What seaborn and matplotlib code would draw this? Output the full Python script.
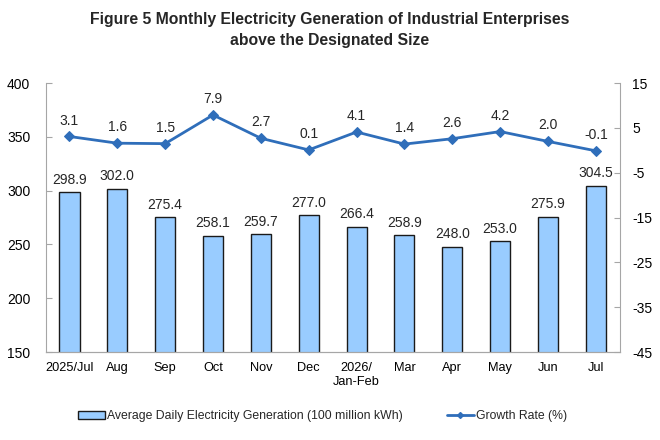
import numpy as np
import pandas as pd
import matplotlib
matplotlib.use('Agg')
import matplotlib.pyplot as plt
import seaborn as sns
from matplotlib.lines import Line2D
from matplotlib.patches import Patch

months = ['2025/Jul', 'Aug', 'Sep', 'Oct', 'Nov', 'Dec', '2026/\nJan-Feb',
          'Mar', 'Apr', 'May', 'Jun', 'Jul']
generation = [298.9, 302.0, 275.4, 258.1, 259.7, 277.0, 266.4,
              258.9, 248.0, 253.0, 275.9, 304.5]
growth = [3.1, 1.6, 1.5, 7.9, 2.7, 0.1, 4.1, 1.4, 2.6, 4.2, 2.0, -0.1]

df = pd.DataFrame({'month': months, 'generation': generation, 'growth': growth})
df['pos'] = np.arange(len(df))

sns.set_style('white')
plt.rcParams['font.family'] = ['Liberation Sans', 'DejaVu Sans']
plt.rcParams['axes.unicode_minus'] = False

bar_color = '#99CCFF'
line_color = '#2F6EBA'
spine_color = '#A6A6A6'

fig = plt.figure(figsize=(6.6, 4.4), dpi=100)
ax = fig.add_axes([0.069, 0.2, 0.870, 0.611])

sns.barplot(data=df, x='month', y='generation', color=bar_color, width=0.42,
            saturation=1, edgecolor='#1A1A1A', linewidth=1.0, ax=ax, zorder=2)
ax.set_ylim(150, 400)
ax.set_yticks(np.arange(150, 401, 50))
ax.set_xlim(-0.5, len(df) - 0.5)
ax.set_xlabel('')
ax.set_ylabel('')

for i, v in enumerate(generation):
    ax.text(i, v + 5, f'{v:.1f}', ha='center', va='bottom', fontsize=10)

ax2 = ax.twinx()
sns.lineplot(data=df, x='pos', y='growth', color=line_color, linewidth=2.0,
             marker='D', markersize=5, markeredgecolor=line_color, ax=ax2, zorder=3)
ax2.set_ylim(-45, 15)
ax2.set_yticks(np.arange(-45, 16, 10))
ax2.set_xlim(-0.5, len(df) - 0.5)
ax2.set_xlabel('')
ax2.set_ylabel('')

for i, v in enumerate(growth):
    ax2.text(i, v + 2.0, f'{v:.1f}', ha='center', va='bottom', fontsize=10)

for a in (ax, ax2):
    for s in a.spines.values():
        s.set_color(spine_color)
    a.spines['top'].set_visible(False)
    a.tick_params(axis='y', labelsize=10, colors='black', length=4,
                  direction='in', color=spine_color)
ax.spines['right'].set_visible(False)
ax2.spines['left'].set_visible(False)
ax.tick_params(axis='y', pad=11)
ax2.tick_params(axis='y', pad=9)

ax.tick_params(axis='x', length=0, pad=7, labelsize=9.2, colors='black')
ax.set_xticks(np.arange(-0.5, len(df), 1), minor=True)
ax.tick_params(axis='x', which='minor', length=4, direction='in', color=spine_color)

fig.suptitle('Figure 5 Monthly Electricity Generation of Industrial Enterprises\nabove the Designated Size',
             fontsize=11.3, fontweight='bold', y=0.972, linespacing=1.45)

handles = [Patch(facecolor=bar_color, edgecolor='#1A1A1A', linewidth=1.0),
           Line2D([0], [0], color=line_color, linewidth=2.0, marker='D', markersize=3)]
labels = ['Average Daily Electricity Generation (100 million kWh)', 'Growth Rate (%)']
fig.legend(handles, labels, loc='center', bbox_to_anchor=(0.489, 0.054), ncol=2,
           frameon=False, fontsize=8.8, handlelength=2.2, handleheight=0.6,
           columnspacing=3.6, handletextpad=0.2)

fig.savefig('out.png', dpi=100)
